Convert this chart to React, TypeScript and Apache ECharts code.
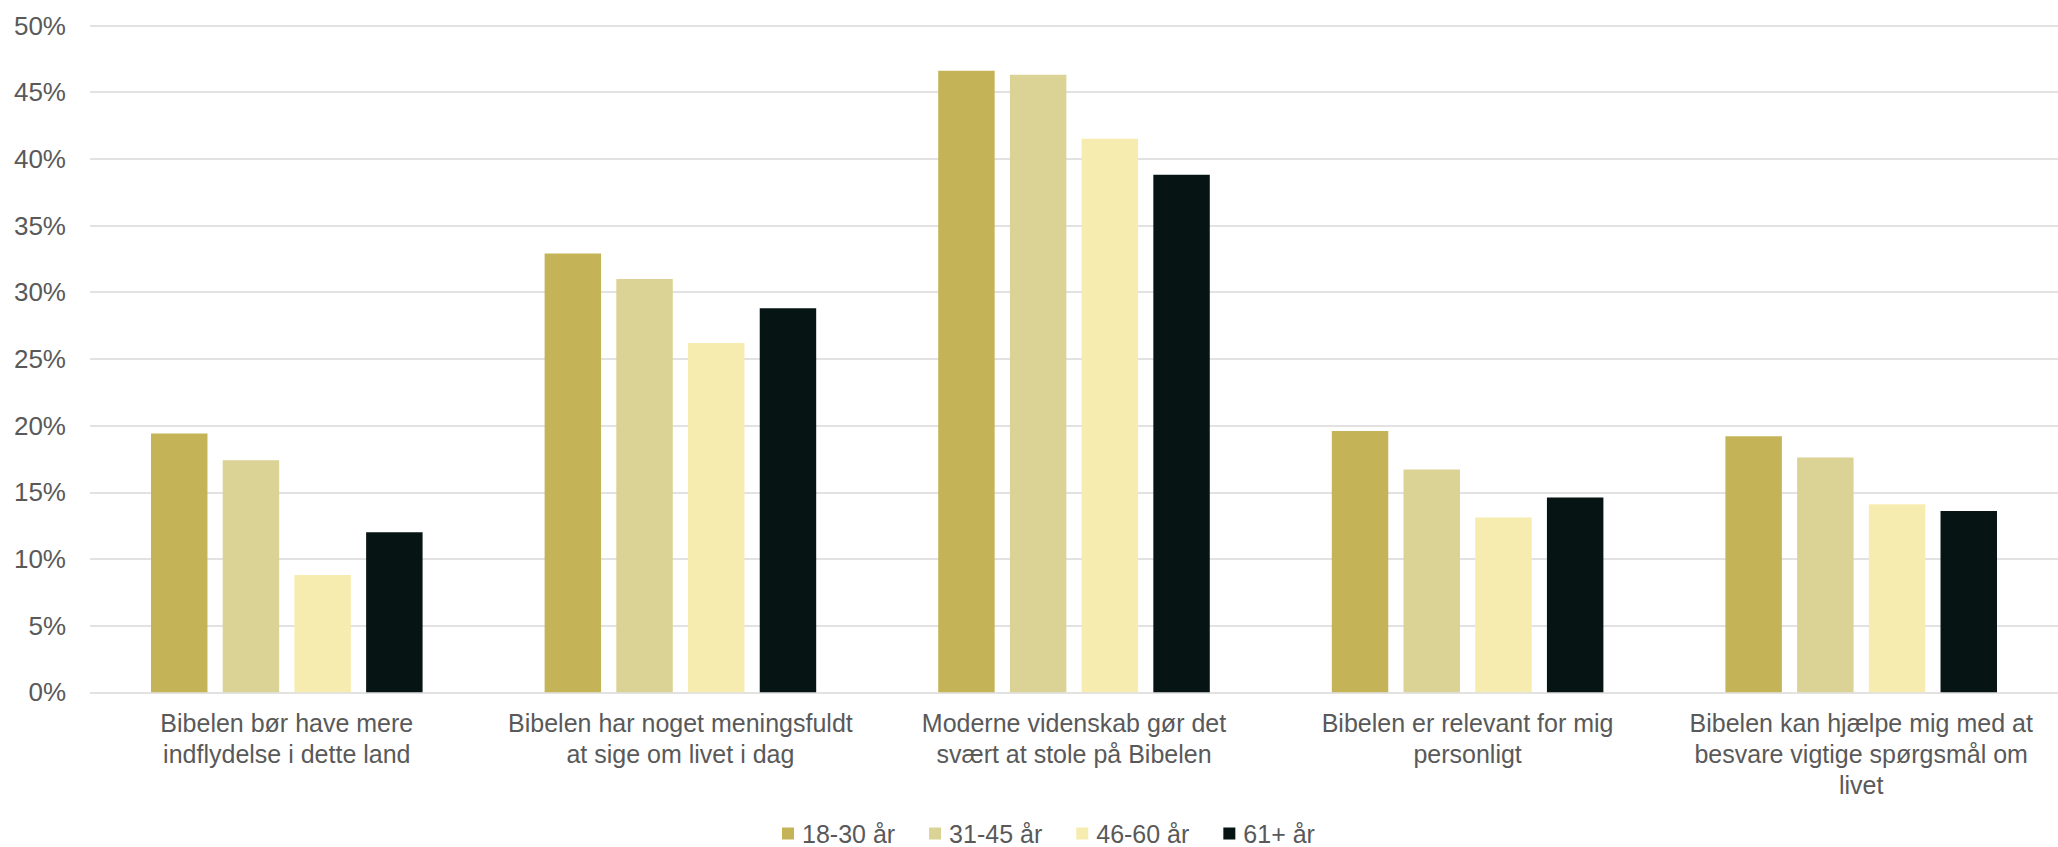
import React, { useEffect, useRef } from "react";
import * as echarts from "echarts";

const categories = [
  "Bibelen bør have mere\nindflydelse i dette land",
  "Bibelen har noget meningsfuldt\nat sige om livet i dag",
  "Moderne videnskab gør det\nsvært at stole på Bibelen",
  "Bibelen er relevant for mig\npersonligt",
  "Bibelen kan hjælpe mig med at\nbesvare vigtige spørgsmål om\nlivet",
];

const seriesNames = ["18-30 år", "31-45 år", "46-60 år", "61+ år"];
const age18to30 = [19.4, 32.9, 46.6, 19.6, 19.2];
const age31to45 = [17.4, 31.0, 46.3, 16.7, 17.6];
const age46to60 = [8.8, 26.2, 41.5, 13.1, 14.1];
const age61plus = [12.0, 28.8, 38.8, 14.6, 13.6];
const seriesValues = [age18to30, age31to45, age46to60, age61plus];
const colors = ["#C5B358", "#DBD296", "#F6ECAF", "#061414"];

const FONT = "'Liberation Sans', Arial, sans-serif";
const TEXT = "#595959";

export default function App() {
  const ref = useRef<HTMLDivElement>(null);
  useEffect(() => {
    if (!ref.current) return;
    const chart = echarts.init(ref.current, undefined, { renderer: "svg" });
    chart.setOption({
      animation: false,
      textStyle: { fontFamily: FONT },
      grid: { left: 90, top: 25.5, height: 666.8, width: 1979, containLabel: false },
      legend: {
        left: 782,
        top: 821,
        padding: 0,
        itemWidth: 12,
        itemHeight: 12,
        itemGap: 34,
        icon: "rect",
        textStyle: { fontSize: 25, color: TEXT, fontFamily: FONT, padding: [0, 0, 0, 3] },
        data: seriesNames,
      },
      xAxis: {
        type: "category",
        data: categories,
        axisLine: { show: false },
        axisTick: { show: false },
        axisLabel: {
          interval: 0,
          margin: 15,
          fontSize: 25,
          lineHeight: 31,
          color: TEXT,
          fontFamily: FONT,
        },
      },
      yAxis: {
        type: "value",
        min: 0,
        max: 50,
        interval: 5,
        axisLine: { show: false },
        axisTick: { show: false },
        axisLabel: {
          formatter: "{value}%",
          fontSize: 26,
          color: TEXT,
          margin: 24,
          fontFamily: FONT,
        },
        splitLine: { lineStyle: { color: "#D9D9D9", width: 1.5 } },
      },
      series: seriesNames.map((name, i) => ({
        name,
        type: "bar",
        data: seriesValues[i],
        barGap: "27%",
        barCategoryGap: "31%",
        itemStyle: { color: colors[i] },
      })),
    });
    return () => chart.dispose();
  }, []);
  return (
    <div
      ref={ref}
      style={{ position: "fixed", left: 0, top: 0, width: 2058, height: 847, background: "#fff" }}
    />
  );
}
